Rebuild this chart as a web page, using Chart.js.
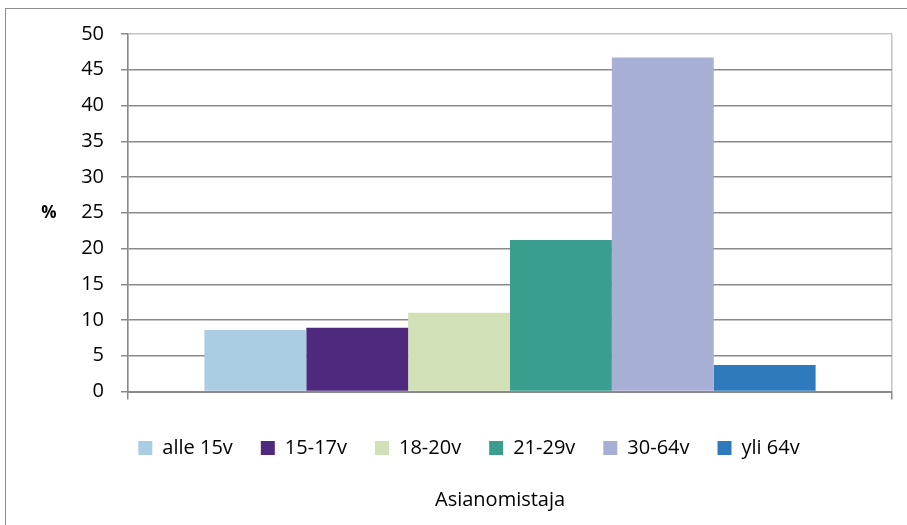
<!DOCTYPE html>
<html>
<head>
<meta charset="utf-8">
<script src="https://cdn.jsdelivr.net/npm/chart.js@4"></script>
<style>
    html, body { margin: 0; padding: 0; background: #fff; overflow: hidden; }
    #wrap { position: relative; width: 907px; height: 525px; }
    #frame { position: absolute; left: 5px; top: 8px; width: 1000px; height: 1000px; border: 1px solid #8c8c8c; box-sizing: border-box; pointer-events: none; }
</style>
</head>
<body>
<div id="wrap">
    <canvas id="chart" width="907" height="525"></canvas>
    <div id="frame"></div>
</div>
<script>
// data
const categories = [''];
const seriesNames = ['alle 15v', '15-17v', '18-20v', '21-29v', '30-64v', 'yli 64v'];
const seriesValues = [8.6, 8.9, 11.0, 21.2, 46.7, 3.7];
const seriesColors = ['#aacde4', '#4f297e', '#d2e0b8', '#3a9e8f', '#a7afd4', '#2f7abd'];
const yTicks = [0, 5, 10, 15, 20, 25, 30, 35, 40, 45, 50];
const yLabel = '%';
const xLabel = 'Asianomistaja';

const FONT = '"Open Sans", "Noto Sans", sans-serif';

// axis captions: "%" sits horizontally left of the value axis,
// the category caption sits under the legend
const axisCaptions = {
    id: 'axisCaptions',
    afterDraw(chart) {
        const ctx = chart.ctx;
        const y = chart.scales.y;
        const x = chart.scales.x;
        ctx.save();
        ctx.fillStyle = '#000';
        ctx.textAlign = 'center';
        ctx.textBaseline = 'middle';
        ctx.font = 'bold 17px ' + FONT;
        ctx.fillText(yLabel, 49, y.getPixelForValue(25));
        ctx.font = '20px ' + FONT;
        ctx.fillText(xLabel, x.left + (x.right - x.left) * 0.487, chart.legend.bottom + 32);
        ctx.restore();
    }
};

const ctx = document.getElementById('chart').getContext('2d');
new Chart(ctx, {
    type: 'bar',
    data: {
        labels: categories,
        datasets: seriesNames.map((name, i) => ({
            label: name,
            data: [seriesValues[i]],
            backgroundColor: seriesColors[i],
            borderWidth: 0
        }))
    },
    options: {
        responsive: false,
        animation: false,
        layout: { padding: { left: 46, top: 34, right: 15, bottom: 57 } },
        datasets: { bar: { categoryPercentage: 0.8, barPercentage: 1.0 } },
        scales: {
            x: {
                offset: true,
                grid: {
                    offset: true,
                    color: '#c4c4c4',
                    tickColor: '#8a8a8a',
                    tickLength: 8,
                    lineWidth: 1.5
                },
                border: { color: '#8a8a8a', width: 2 },
                ticks: { display: false },
                afterFit(scale) { scale.height = 18.5; }
            },
            y: {
                min: 0,
                max: 50,
                afterBuildTicks(scale) { scale.ticks = yTicks.map(v => ({ value: v })); },
                grid: {
                    color: c => c.tick && c.tick.value === 50 ? '#c4c4c4' : '#8a8a8a',
                    tickColor: '#8a8a8a',
                    tickLength: 7,
                    lineWidth: 1.5
                },
                border: { color: '#8a8a8a', width: 1.5 },
                ticks: {
                    color: '#000',
                    padding: 17,
                    font: { family: FONT, size: 20 }
                },
                afterFit(scale) { scale.width = 82; }
            }
        },
        plugins: {
            legend: {
                position: 'bottom',
                labels: {
                    boxWidth: 14,
                    boxHeight: 14,
                    padding: 28,
                    color: '#000',
                    font: { family: FONT, size: 20 }
                }
            },
            title: { display: false },
            tooltip: { enabled: false }
        }
    },
    plugins: [axisCaptions]
});
</script>
</body>
</html>
